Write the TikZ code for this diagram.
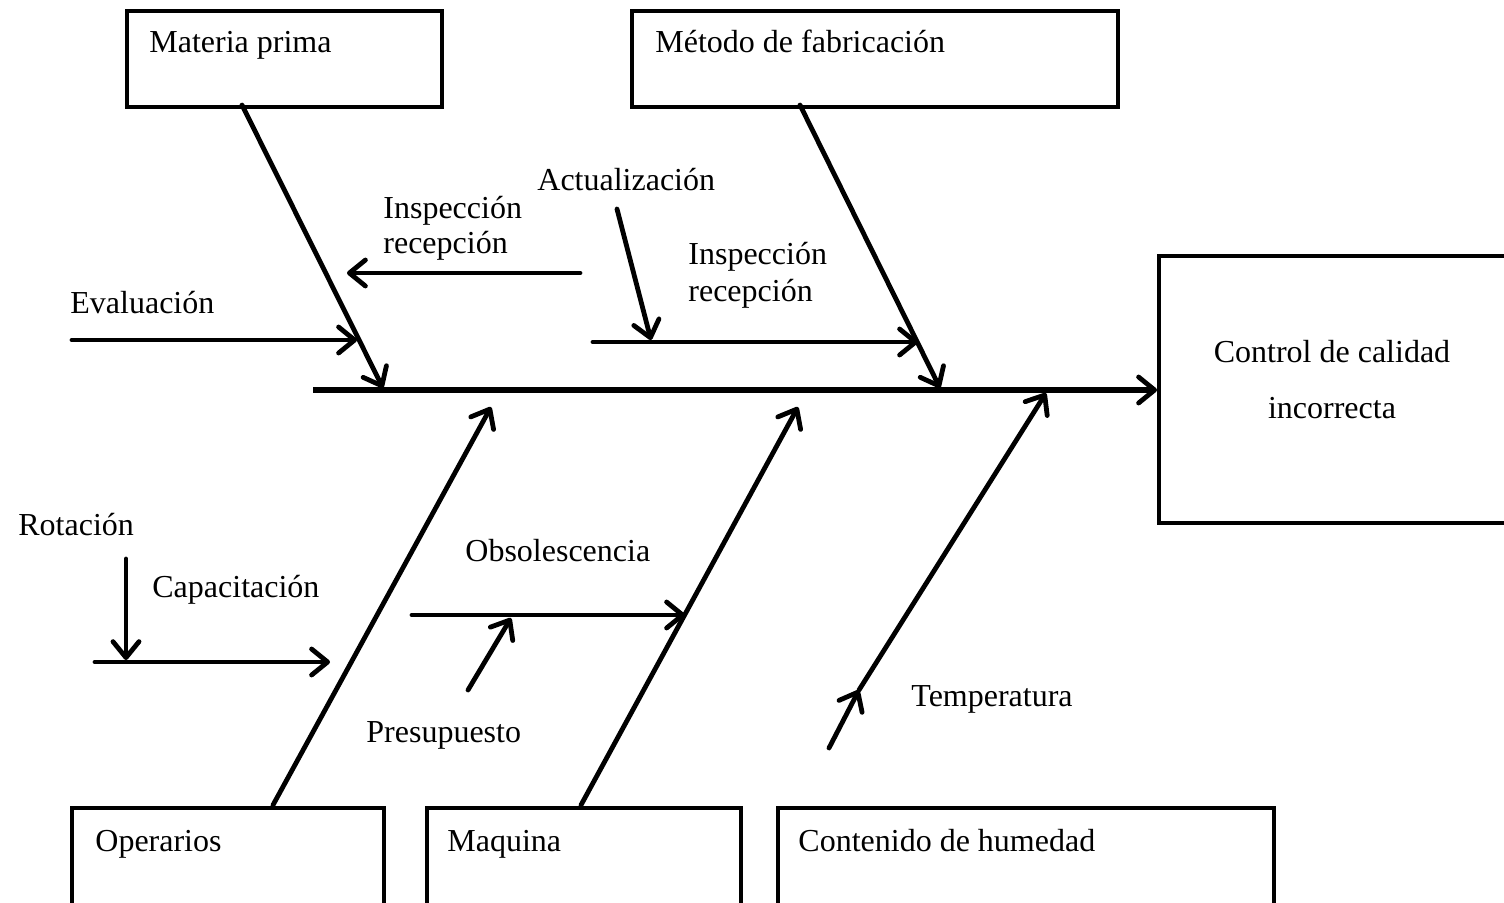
\documentclass[tikz,border=0pt]{standalone}
\usepackage{fontspec}
\setmainfont{Liberation Serif}
\usetikzlibrary{arrows.meta}
\begin{document}
\begin{tikzpicture}[x=0.5pt,y=-0.5pt,
  every node/.style={font=\fontsize{16}{19}\selectfont, inner sep=0pt},
  catbox/.style={draw, line width=2.2pt, anchor=north west},
  lbl/.style={anchor=base west},
  bone/.style={line width=2.4pt, line cap=round},
  cause/.style={bone, -{Straight Barb[length=8pt,width=13pt,line width=2.4pt,round]}},
  spine/.style={line width=2.6pt, -{Straight Barb[length=8pt,width=13pt,line width=2.4pt,round]}}]
\clip (0,0) rectangle (1504,902);
\useasboundingbox (0,0) rectangle (1504,902);

% category boxes
\node[catbox, minimum width=157.5pt, minimum height=48pt] (mat) at (125,9) {};
\node[catbox, minimum width=243pt, minimum height=48pt] (met) at (630,9) {};
\node[catbox, minimum width=156pt, minimum height=60pt] (ope) at (70,806) {};
\node[catbox, minimum width=157pt, minimum height=60pt] (maq) at (425,806) {};
\node[catbox, minimum width=248pt, minimum height=60pt] (hum) at (776,806) {};
\node[catbox, minimum width=200pt, minimum height=133.5pt] (eff) at (1157,254) {};

\node[lbl] (matT) at (149,52) {Materia prima};
\node[lbl] (metT) at (655,52) {Método de fabricación};
\node[lbl] (opeT) at (95,851) {Operarios};
\node[lbl] (maqT) at (447,851) {Maquina};
\node[lbl] (humT) at (798,851) {Contenido de humedad};
\node[anchor=base] (effA) at (1332,362) {Control de calidad};
\node[anchor=base] (effB) at (1332,418) {incorrecta};

% spine
\coordinate (sp0) at (313,390);
\draw[spine] (sp0) -- (eff.west |- sp0);

% main bones
\coordinate (matA) at (242,105);  \coordinate (matB) at (383,388);
\coordinate (metA) at (800,105);  \coordinate (metB) at (940,388);
\coordinate (opeA) at (273,805);  \coordinate (opeB) at (491,407);
\coordinate (maqA) at (581,805);  \coordinate (maqB) at (798,407);
\coordinate (humA) at (859,690);  \coordinate (humB) at (1046,393);
\draw[cause] (matA) -- (matB);
\draw[cause] (metA) -- (metB);
\draw[cause] (opeA) -- (opeB);
\draw[cause] (maqA) -- (maqB);
\draw[cause] (humA) -- (humB);

% sub-causes
\node[lbl] (evalT) at (70,313) {Evaluación};
\coordinate (ev0) at (72,340); \coordinate (ev1) at (357,340);
\draw[cause] (ev0) -- (ev1);

\node[lbl] (insLa) at (383,218) {Inspección};
\node[lbl] (insLb) at (383,253) {recepción};
\coordinate (il0) at (580,273); \coordinate (il1) at (347,273);
\draw[cause] (il0) -- (il1);

\node[lbl] (actT) at (537,190) {Actualización};
\node[lbl] (insRa) at (688,264) {Inspección};
\node[lbl] (insRb) at (688,301) {recepción};
\coordinate (ir0) at (593,342); \coordinate (ir1) at (918,342);
\coordinate (ac0) at (617,209); \coordinate (ac1) at (651,340);
\draw[cause] (ir0) -- (ir1);
\draw[cause] (ac0) -- (ac1);

\node[lbl] (rotT) at (18,535) {Rotación};
\node[lbl] (capT) at (152,597) {Capacitación};
\coordinate (ca0) at (95,662); \coordinate (ca1) at (330,662);
\coordinate (ro0) at (126,559); \coordinate (ro1) at (126,660);
\draw[cause] (ca0) -- (ca1);
\draw[cause] (ro0) -- (ro1);

\node[lbl] (obsT) at (465,561) {Obsolescencia};
\node[lbl] (preT) at (366,742) {Presupuesto};
\coordinate (ob0) at (412,615); \coordinate (ob1) at (685,615);
\coordinate (pr0) at (468,690); \coordinate (pr1) at (511,618);
\draw[cause] (ob0) -- (ob1);
\draw[cause] (pr0) -- (pr1);

\node[lbl] (temT) at (911,706) {Temperatura};
\coordinate (te0) at (829,748);
\draw[cause] (te0) -- (humA);
\end{tikzpicture}
\end{document}
